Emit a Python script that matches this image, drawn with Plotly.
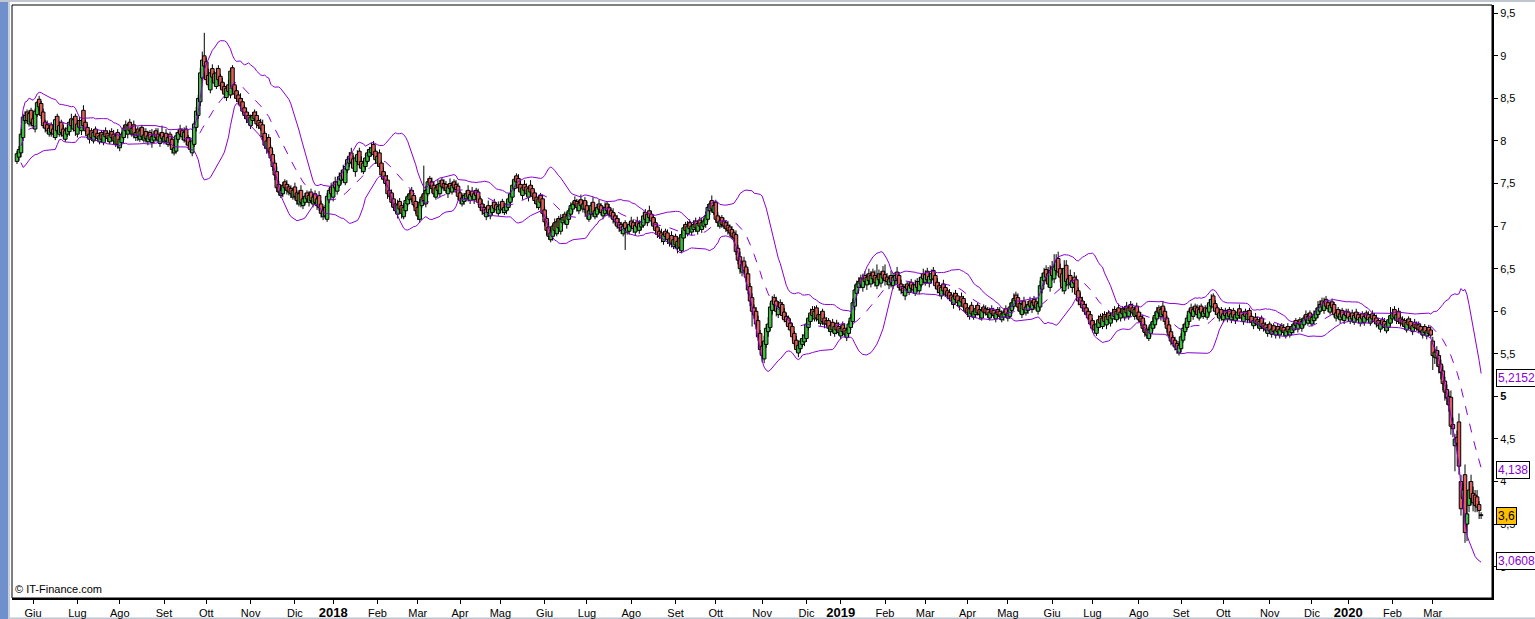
import pandas as pd
import plotly.graph_objects as go

# ---------------- data (prices in euro cents, one entry per trading day) ----------------
CLOSE = [
    785, 790, 808, 828, 830, 824, 832, 822, 818, 835, 845, 840, 830, 818, 815,
    812, 815, 810, 808, 825, 812, 818, 810, 806, 812,
    815, 822, 818, 825, 812, 820, 816, 824, 818,
    812, 806, 808, 804, 810, 805, 803,
    806, 802, 808, 805, 803, 807, 804,
    800, 806, 796, 802, 808,
    815, 812, 818,
    812, 815, 808, 810, 806, 812,
    805, 807, 803, 806, 802, 805, 808, 804, 801, 806, 803, 805, 800, 804,
    798, 790, 792,
    806, 810, 808,
    805, 810, 800, 795, 790,
    800, 820, 835, 850,
    880, 895,
    888, 872, 866,
    880,
    875, 868, 880, 872,
    865, 860, 855, 862, 858,
    882, 862,
    855, 850, 846, 842,
    835, 830, 826, 822, 828,
    830, 826, 820, 818,
    815, 805, 795, 800, 788,
    780, 770, 760,
    745, 740, 742,
    748, 745, 742,
    740, 738, 742,
    735, 730, 738, 728, 732,
    735, 732, 736, 730,
    734, 728, 732,
    722, 715, 718, 712,
    735, 742, 738, 748, 745,
    752, 758, 762, 755,
    770, 778, 782, 775, 768, 780, 784,
    772, 768, 774,
    780, 786, 790, 792, 784, 778, 782,
    770, 760, 755, 750, 738, 735,
    728, 722, 718, 725, 720, 715, 722,
    730, 735, 738, 732,
    725, 718, 712,
    728, 734, 730,
    742, 752,
    748, 744, 738, 745, 742, 750, 746,
    745, 742, 746, 744, 748, 745, 743,
    735, 730, 733,
    736, 738, 734, 737, 735, 738, 736,
    728, 722, 718, 715, 720, 716,
    720, 724, 721, 719, 723, 725, 720, 722, 726,
    732, 738,
    748, 755, 752, 745, 740,
    745, 742, 738, 744, 740,
    735, 730, 726, 732, 728,
    715, 705, 695, 688, 692,
    700, 695, 705, 698, 708,
    710, 706, 712,
    718, 724, 726,
    725, 722, 727, 724, 726,
    720, 712, 718, 724, 715,
    718, 722, 720, 716, 719, 722, 718,
    714, 712, 708,
    705, 700, 698, 695, 700, 697,
    698, 702, 700, 697, 701, 699, 703,
    705, 712, 708, 714, 710, 706, 700, 695,
    690, 688, 686, 690, 688, 684,
    685, 680, 684, 678, 682, 675,
    690, 698, 695, 700, 697,
    700, 702, 698, 703, 700, 704, 706,
    712, 722, 726, 720, 724,
    708, 704, 706, 702,
    700, 697, 695,
    692, 688, 686,
    670, 660, 650,
    655, 648, 640,
    625, 612, 600, 596,
    585, 570,
    555, 548,
    565, 580, 585,
    605, 612, 608, 600, 606, 604,
    595, 590, 588, 582, 578,
    570, 562, 555, 560,
    565, 568, 572, 585, 592,
    598, 595, 600, 592, 590, 596, 588, 585,
    585, 580, 583, 578, 582,
    578, 575, 580, 576, 573, 578,
    585, 592,
    610, 625, 632,
    635, 632,
    638, 635, 640, 636, 642, 638, 634, 640, 637, 643, 639, 636,
    635, 638, 634, 640, 642, 638,
    628, 625, 622,
    628, 626, 630, 627, 625, 631, 628,
    635, 640, 638, 643, 637, 641, 644, 638,
    630, 626, 622, 628, 624, 620, 618,
    615, 612, 617, 614, 610, 613, 611,
    605, 600, 598, 603, 597,
    600, 603, 598, 596, 601, 599,
    598, 596, 599, 597, 595, 598, 596, 594, 597, 599, 596, 598,
    605, 610, 615,
    612, 605, 600, 608, 602,
    605, 608, 606, 610, 607, 604, 609,
    630, 640,
    645, 640, 632, 648, 642,
    652, 658, 646,
    640, 628, 650, 635,
    638, 632, 636, 633,
    620, 612, 608, 604,
    600, 596, 592,
    585, 580, 578,
    585, 590, 586, 592, 588, 594, 590, 595,
    598, 594, 600, 596, 599,
    597, 602, 598, 604, 600, 598, 602,
    595, 590, 588,
    580, 575, 572,
    578, 584, 588,
    595, 600, 598, 602, 596,
    588, 580,
    572, 565, 562,
    558, 555, 560,
    570, 580, 585,
    592, 600, 598, 602,
    600, 596, 602, 598, 600, 597, 603,
    610, 614, 605,
    600, 596, 598, 594, 597,
    595, 598, 594, 597, 593, 596, 599, 595, 592, 596, 594, 597,
    590, 587, 589, 586, 584, 588,
    582, 580, 578, 581, 577, 579, 576,
    578, 576, 579, 577, 575, 578, 576, 579,
    582, 585, 583, 586, 584,
    588, 592, 590, 594, 589, 593, 596,
    600, 604, 608, 605,
    610, 606, 603, 607, 604,
    596, 598, 594, 597, 593, 596, 595, 592,
    594, 591, 595, 592, 590, 593, 591, 594, 592, 590, 593, 591,
    588, 585, 583, 586, 584, 581, 585,
    590, 595, 598, 593, 596, 588, 586,
    585, 582, 587, 584, 580, 583, 581,
    580, 578, 576, 578, 575, 577, 574, 572,
    548, 552, 545, 535, 528, 515, 505, 498, 490, 465, 462, 450, 445, 418, 368,
    390, 340, 362, 390, 380, 375, 372, 370, 366, 360,
]

OPEN = [
    776, 781, 786, 804, 824, 834, 820, 836, 826, 814, 831, 849, 844, 834, 822,
    819, 808, 819, 814, 804, 829, 808, 822, 814, 802,
    808, 811, 826, 814, 829, 808, 824, 812, 836,
    822, 816, 802, 812, 800, 814, 809,
    799, 810, 798, 812, 809, 799, 811,
    808, 796, 810, 792, 798,
    804, 819, 808,
    822, 808, 819, 804, 814, 802,
    816, 801, 811, 799, 810, 798, 801, 812, 808, 797, 810, 799, 809, 796,
    808, 802, 786,
    788, 802, 814,
    812, 801, 814, 804, 799,
    786, 796, 816, 830,
    846, 874,
    900, 893, 877,
    860,
    885, 879, 864, 885,
    876, 869, 864, 851, 866,
    854, 886,
    866, 859, 854, 850,
    846, 839, 834, 830, 818,
    824, 834, 830, 824,
    822, 819, 809, 791, 804,
    792, 784, 774,
    764, 749, 736,
    738, 752, 749,
    746, 744, 734,
    746, 739, 726, 742, 724,
    728, 739, 728, 740,
    726, 738, 724,
    736, 726, 711, 722,
    708, 731, 746, 734, 752,
    741, 748, 754, 766,
    751, 766, 774, 786, 779, 764, 776,
    788, 776, 764,
    770, 776, 782, 786, 796, 788, 774,
    786, 774, 764, 759, 754, 742,
    739, 732, 726, 714, 729, 724, 711,
    718, 726, 731, 742,
    736, 729, 722,
    708, 724, 738,
    726, 738,
    756, 752, 748, 734, 749, 738, 754,
    750, 749, 738, 750, 740, 752, 749,
    747, 739, 726,
    729, 732, 742, 730, 741, 731, 742,
    740, 732, 726, 722, 711, 724,
    712, 716, 728, 725, 715, 719, 729, 716, 718,
    722, 728,
    734, 744, 759, 756, 749,
    736, 749, 746, 734, 748,
    744, 739, 734, 722, 736,
    732, 719, 709, 699, 684,
    688, 704, 691, 709, 694,
    704, 714, 702,
    708, 714, 720,
    730, 729, 718, 731, 720,
    730, 724, 708, 714, 728,
    711, 714, 726, 724, 712, 715, 726,
    722, 718, 716,
    712, 709, 704, 702, 691, 704,
    693, 694, 706, 704, 693, 705, 695,
    699, 701, 716, 704, 718, 714, 710, 704,
    699, 694, 692, 682, 694, 692,
    680, 689, 676, 688, 674, 686,
    671, 686, 702, 691, 704,
    693, 696, 706, 694, 707, 696, 700,
    702, 708, 718, 730, 716,
    728, 712, 700, 710,
    706, 704, 701,
    699, 696, 692,
    690, 674, 664,
    646, 659, 652,
    644, 629, 616, 604,
    600, 589,
    574, 559,
    544, 561, 576,
    581, 601, 616, 612, 596, 610,
    608, 599, 594, 592, 586,
    582, 574, 566, 551,
    556, 561, 564, 568, 581,
    588, 602, 591, 604, 596, 586, 600, 592,
    589, 589, 576, 587, 574,
    586, 582, 571, 584, 580, 569,
    574, 581,
    588, 606, 621,
    628, 639,
    628, 642, 631, 644, 632, 646, 642, 630, 644, 633, 647, 643,
    640, 631, 642, 630, 636, 646,
    642, 632, 629,
    618, 632, 622, 634, 631, 621, 635,
    624, 631, 644, 634, 647, 633, 637, 648,
    642, 634, 630, 618, 632, 628, 624,
    622, 619, 608, 621, 618, 606, 617,
    615, 609, 604, 594, 607,
    593, 596, 607, 602, 592, 605,
    603, 602, 592, 603, 601, 591, 602, 600, 590, 593, 603, 592,
    594, 601, 606,
    619, 616, 609, 596, 612,
    598, 601, 612, 602, 614, 611, 600,
    605, 626,
    636, 649, 644, 628, 652,
    638, 648, 662,
    650, 644, 624, 654,
    631, 642, 628, 640,
    637, 624, 616, 612,
    608, 604, 600,
    596, 589, 584,
    574, 581, 594, 582, 596, 584, 598, 586,
    591, 602, 590, 604, 592,
    603, 593, 606, 594, 608, 604, 594,
    606, 599, 594,
    592, 584, 579,
    568, 574, 580,
    584, 591, 604, 594, 606,
    600, 592,
    584, 576, 569,
    566, 562, 551,
    556, 566, 576,
    581, 588, 604, 594,
    606, 604, 592, 606, 594, 604, 593,
    599, 606, 618,
    609, 604, 592, 602, 590,
    601, 591, 602, 590, 601, 589, 592, 603, 599, 588, 600, 590,
    601, 594, 583, 593, 590, 580,
    592, 586, 584, 574, 585, 573, 583,
    572, 582, 572, 583, 581, 571, 582, 572,
    575, 578, 589, 579, 590,
    580, 584, 596, 586, 598, 585, 589,
    592, 596, 600, 612,
    601, 614, 610, 599, 611,
    608, 592, 602, 590, 601, 589, 600, 599,
    588, 598, 587, 599, 596, 586, 597, 587, 598, 596, 586, 597,
    595, 592, 589, 579, 590, 588, 577,
    581, 586, 591, 602, 589, 600, 592,
    590, 589, 578, 591, 588, 576, 587,
    585, 584, 582, 572, 582, 571, 581, 578,
    565, 546, 554, 548, 538, 530, 518, 508, 500, 499, 467, 442, 452, 470, 400,
    380, 408, 350, 372, 400, 386, 384, 382, 373, 361,
]

# wick lengths above the body top / below the body bottom (cents)
UPPER_WICK = [
    3, 4, 6, 4, 5, 3, 4, 3, 5, 3, 2, 4, 3, 4, 3,
    5, 4, 3, 6, 4, 3, 5, 3, 5, 4,
    4, 3, 6, 4, 3, 5, 4, 3, 6,
    3, 4, 5, 3, 4, 3, 5,
    4, 3, 5, 4, 3, 6, 4,
    5, 3, 4, 6, 3,
    4, 5, 3,
    4, 3, 5, 4, 3, 4,
    3, 8, 4, 6, 3, 9, 4, 3, 7, 4, 8, 3, 5, 4,
    3, 4, 5,
    4, 3, 5,
    3, 6, 4, 3, 5,
    4, 3, 5, 4,
    6, 10,
    27, 5, 8,
    4,
    5, 3, 6, 4,
    3, 5, 4, 3, 6,
    4, 3,
    3, 5, 4, 6,
    4, 3, 5, 4, 3,
    4, 3, 5, 3,
    4, 6, 3, 5, 4,
    3, 5, 4,
    6, 4, 5,
    4, 3, 5,
    3, 4, 3,
    5, 3, 4, 6, 3,
    4, 3, 5, 4,
    3, 4, 3,
    5, 4, 6, 3,
    4, 3, 5, 4, 6,
    3, 5, 4, 6,
    4, 3, 5, 6, 4, 3, 5,
    4, 6, 3,
    5, 4, 3, 6, 4, 3, 5,
    4, 3, 5, 4, 6, 3,
    4, 5, 3, 6, 4, 3, 5,
    4, 3, 5, 4,
    3, 5, 4,
    4, 3, 33,
    5, 4,
    3, 5, 4, 3, 6, 4, 3,
    5, 4, 3, 6, 4, 3, 5,
    4, 3, 5,
    3, 4, 6, 3, 5, 4, 3,
    4, 3, 5, 4, 3, 6,
    3, 5, 4, 3, 6, 4, 3, 5, 4,
    5, 4,
    6, 4, 3, 5, 4,
    3, 5, 4, 3, 6,
    4, 3, 5, 4, 3,
    5, 4, 3, 6, 4,
    3, 5, 4, 3, 6,
    4, 3, 5,
    3, 4, 3,
    5, 3, 4, 6, 3,
    4, 5, 3, 4, 6,
    3, 4, 5, 3, 4, 6, 3,
    4, 3, 5,
    3, 4, 5, 3, 4, 3,
    4, 3, 5, 4, 3, 6, 4,
    3, 5, 4, 3, 6, 4, 3, 5,
    4, 3, 5, 4, 3, 4,
    3, 5, 4, 3, 6, 4,
    5, 4, 3, 6, 4,
    3, 5, 4, 3, 4, 6, 3,
    5, 4, 3, 6, 4,
    3, 4, 5, 3,
    4, 3, 5,
    3, 4, 3,
    5, 4, 6,
    4, 5, 3,
    6, 4, 5, 4,
    5, 6,
    4, 5,
    6, 5, 8,
    5, 6, 4, 5, 6, 4,
    3, 5, 4, 3, 5,
    4, 3, 5, 4,
    3, 5, 4, 6, 4,
    5, 4, 6, 3, 5, 4, 3, 5,
    4, 3, 5, 4, 3,
    4, 5, 3, 4, 6, 3,
    4, 5,
    5, 6, 4,
    5, 4,
    6, 5, 4, 6, 5, 4, 6, 15, 5, 4, 6, 12,
    5, 4, 6, 5, 4, 6,
    4, 5, 3,
    4, 3, 5, 4, 3, 6, 4,
    5, 4, 6, 5, 4, 6, 5, 4,
    3, 5, 4, 3, 5, 4, 3,
    4, 3, 5, 4, 3, 4, 5,
    3, 4, 5, 3, 4,
    3, 4, 3, 5, 4, 3,
    4, 3, 5, 4, 3, 4, 3, 5, 4, 3, 4, 3,
    5, 4, 6,
    4, 5, 3, 4, 5,
    3, 4, 5, 3, 4, 5, 3,
    6, 5,
    6, 5, 8, 6, 7,
    15, 9, 8,
    6, 7, 10, 6,
    5, 7, 4, 6,
    5, 4, 6, 5,
    4, 5, 3,
    4, 3, 5,
    4, 5, 3, 6, 4, 5, 3, 4,
    5, 4, 3, 5, 4,
    3, 4, 5, 3, 4, 5, 3,
    4, 3, 5,
    4, 5, 3,
    4, 3, 5,
    4, 5, 3, 4, 6,
    4, 3,
    5, 4, 3,
    4, 3, 5,
    4, 5, 3,
    4, 3, 5, 4,
    3, 4, 5, 3, 4, 3, 5,
    4, 6, 3,
    4, 3, 5, 3, 4,
    3, 4, 3, 5, 3, 4, 3, 5, 3, 4, 3, 4,
    3, 4, 3, 5, 3, 4,
    3, 4, 3, 4, 3, 5, 3,
    4, 3, 4, 3, 4, 3, 4, 3,
    3, 4, 3, 4, 3,
    4, 3, 5, 4, 3, 4, 5,
    4, 8, 5, 4,
    6, 4, 3, 5, 4,
    3, 4, 3, 5, 3, 4, 3, 4,
    3, 4, 3, 4, 3, 4, 3, 4, 3, 4, 3, 4,
    3, 4, 3, 4, 3, 4, 3,
    4, 10, 5, 4, 3, 4, 3,
    4, 3, 4, 3, 4, 3, 4,
    3, 4, 3, 4, 3, 4, 3, 4,
    5, 6, 5, 6, 5, 6, 5, 6, 6, 8, 8, 6, 8, 10, 8,
    8, 12, 10, 10, 8, 8, 6, 8, 4, 3,
]

LOWER_WICK = [
    3, 4, 5, 4, 4, 3, 3, 5, 4, 4, 3, 5, 4, 3, 5,
    4, 3, 5, 4, 3, 4, 3, 5, 4, 3,
    3, 5, 4, 3, 6, 4, 3, 5, 4,
    4, 3, 5, 4, 3, 4, 3,
    3, 4, 3, 5, 4, 3, 4,
    4, 3, 5, 4, 3,
    3, 4, 5,
    4, 3, 5, 4, 6, 3,
    4, 3, 5, 4, 3, 6, 4, 5, 3, 4, 5, 3, 4, 3,
    4, 5, 3,
    3, 4, 3,
    4, 3, 5, 4, 3,
    4, 3, 5, 4,
    5, 4,
    6, 5, 4,
    4,
    5, 4, 3, 5,
    4, 3, 5, 4, 3,
    4, 3,
    5, 4, 3, 4,
    3, 4, 5, 3, 4,
    4, 3, 5, 4,
    3, 5, 4, 6, 3,
    4, 5, 6,
    5, 4, 3,
    4, 3, 5,
    4, 5, 3,
    4, 5, 3, 6, 4,
    3, 4, 5, 3,
    4, 3, 5,
    4, 5, 4, 3,
    3, 4, 3, 5, 4,
    4, 3, 5, 4,
    3, 4, 5, 3, 4, 6, 3,
    4, 5, 3,
    4, 3, 5, 4, 3, 5, 4,
    3, 5, 4, 3, 6, 4,
    5, 4, 3, 5, 4, 6, 3,
    4, 3, 5, 4,
    3, 4, 5,
    4, 3, 5,
    4, 3,
    3, 5, 4, 3, 5, 4, 3,
    4, 3, 5, 4, 3, 5, 4,
    5, 4, 3,
    4, 3, 5, 4, 3, 5, 4,
    3, 4, 5, 3, 4, 5,
    4, 3, 5, 4, 3, 4, 5, 3, 4,
    3, 4,
    4, 3, 5, 4, 3,
    5, 4, 3, 5, 4,
    3, 4, 5, 3, 4,
    4, 5, 6, 4, 3,
    5, 4, 3, 5, 4,
    3, 4, 5,
    4, 3, 4,
    3, 5, 4, 3, 4,
    5, 4, 3, 5, 4,
    3, 4, 5, 3, 4, 3, 5,
    4, 3, 5,
    4, 3, 5, 4, 3, 25,
    3, 4, 3, 5, 4, 3, 4,
    4, 3, 5, 4, 3, 5, 4, 3,
    4, 3, 5, 4, 3, 5,
    4, 5, 3, 4, 6, 4,
    3, 4, 5, 3, 4,
    4, 3, 5, 4, 3, 4, 3,
    4, 3, 5, 4, 3,
    4, 5, 3, 4,
    3, 4, 5,
    4, 3, 5,
    4, 5, 6,
    5, 4, 6,
    5, 6, 18, 5,
    6, 5,
    6, 8,
    5, 4, 6,
    4, 5, 3, 6, 4, 5,
    4, 3, 5, 4, 3,
    5, 4, 3, 5,
    4, 3, 5, 4, 3,
    4, 5, 3, 4, 5, 3, 4, 5,
    3, 4, 5, 3, 4,
    5, 3, 4, 5, 3, 4,
    4, 3,
    4, 5, 3,
    4, 5,
    5, 4, 6, 5, 4, 6, 5, 4, 6, 5, 4, 6,
    4, 5, 6, 4, 5, 6,
    4, 5, 4,
    5, 4, 3, 5, 4, 3, 5,
    4, 3, 5, 4, 3, 5, 4, 3,
    4, 5, 3, 4, 5, 3, 4,
    3, 4, 5, 3, 4, 5, 3,
    4, 3, 5, 4, 3,
    3, 4, 3, 5, 3, 4,
    3, 4, 3, 4, 3, 4, 3, 4, 3, 4, 3, 4,
    3, 4, 3,
    4, 5, 3, 4, 5,
    3, 4, 3, 4, 5, 3, 4,
    4, 5,
    5, 6, 4, 5, 6,
    5, 6, 5,
    6, 5, 4, 6,
    5, 4, 6, 5,
    4, 5, 3, 4,
    3, 4, 5,
    4, 5, 4,
    3, 4, 5, 3, 4, 5, 3, 4,
    3, 4, 3, 5, 4,
    3, 4, 3, 4, 5, 3, 4,
    4, 3, 5,
    4, 5, 4,
    3, 4, 3,
    4, 3, 4, 5, 3,
    4, 5,
    4, 5, 3,
    4, 5, 3,
    4, 3, 5,
    3, 4, 3, 4,
    3, 4, 3, 4, 3, 4, 3,
    4, 3, 5,
    4, 3, 4, 5, 3,
    3, 4, 3, 4, 3, 4, 3, 4, 3, 4, 3, 4,
    4, 3, 4, 3, 4, 3,
    3, 4, 3, 4, 3, 4, 3,
    4, 3, 4, 3, 4, 3, 4, 3,
    3, 4, 3, 4, 3,
    4, 3, 4, 3, 4, 3, 4,
    3, 4, 3, 4,
    4, 3, 4, 3, 4,
    3, 4, 3, 4, 3, 4, 3, 4,
    3, 4, 3, 4, 3, 4, 3, 4, 3, 4, 3, 4,
    3, 4, 3, 4, 3, 4, 3,
    4, 3, 4, 3, 4, 3, 4,
    3, 4, 3, 4, 3, 4, 3,
    3, 4, 3, 4, 3, 4, 3, 4,
    17, 8, 10, 8, 8, 8, 10, 8, 8, 10, 10, 30, 8, 10, 8,
    10, 12, 20, 8, 8, 10, 8, 6, 10, 4,
]

FIRST_DAY = "2017-05-22"
HOLIDAYS = [
    "2017-08-15", "2017-12-25", "2017-12-26",
    "2018-01-01", "2018-03-30", "2018-04-02", "2018-05-01", "2018-08-15",
    "2018-12-24", "2018-12-25", "2018-12-26", "2018-12-31",
    "2019-01-01", "2019-04-19", "2019-04-22", "2019-05-01", "2019-08-15",
    "2019-12-24", "2019-12-25", "2019-12-26", "2019-12-31",
    "2020-01-01",
]
LAST_TICK_DATE = "2020-03-31"
MONTHS_IT = ["Gen", "Feb", "Mar", "Apr", "Mag", "Giu", "Lug", "Ago", "Set", "Ott", "Nov", "Dic"]
Y_TICKS = [3, 3.5, 4, 4.5, 5, 5.5, 6, 6.5, 7, 7.5, 8, 8.5, 9, 9.5]
BOLD_Y_TICK = 5
# last values shown in boxes on the right: text, level, text colour, background
LAST_BOXES = [
    ("5,2152", 5.2152, "#8a00d4", "#ffffff"),
    ("4,138", 4.138, "#8a00d4", "#ffffff"),
    ("3,0608", 3.0608, "#8a00d4", "#ffffff"),
    ("3,6", 3.6, "#000000", "#ffc000"),
]
BB_PERIOD = 20
BB_STD = 2

# ---------------- assemble ----------------
n = len(CLOSE)
assert len(OPEN) == n and len(UPPER_WICK) == n and len(LOWER_WICK) == n, (
    n, len(OPEN), len(UPPER_WICK), len(LOWER_WICK))

o = [v / 100 for v in OPEN]
c = [v / 100 for v in CLOSE]
body_top = [max(a, b) / 100 for a, b in zip(OPEN, CLOSE)]
body_bot = [min(a, b) / 100 for a, b in zip(OPEN, CLOSE)]
h = [(max(a, b) + w) / 100 for a, b, w in zip(OPEN, CLOSE, UPPER_WICK)]
l = [(min(a, b) - w) / 100 for a, b, w in zip(OPEN, CLOSE, LOWER_WICK)]

hol = set(pd.to_datetime(HOLIDAYS))
days = [d for d in pd.bdate_range(FIRST_DAY, periods=n + 60) if d not in hol][:n]
idx = list(range(n))

s = pd.Series(c)
mid = s.rolling(BB_PERIOD, min_periods=3).mean()
sd = s.rolling(BB_PERIOD, min_periods=3).std(ddof=0)
upper = mid + BB_STD * sd
lower = mid - BB_STD * sd

tickvals, ticktext = [], []
last_tick = pd.Timestamp(LAST_TICK_DATE)
for i in range(1, n):
    if days[i].month != days[i - 1].month and days[i] <= last_tick:
        tickvals.append(i)
        if days[i].month == 1:
            ticktext.append("<b><span style='font-size:13px'>%d</span></b>" % days[i].year)
        else:
            ticktext.append(MONTHS_IT[days[i].month - 1])

ytext = []
for v in Y_TICKS:
    t = ("%g" % v).replace(".", ",")
    ytext.append("<b>%s</b>" % t if v == BOLD_Y_TICK else t)

PURPLE = "#8a00d4"
GREEN = "#3fbf3f"
RED = "#de5f5a"
FONT = "Liberation Sans, Arial, sans-serif"

# wicks: high -> body top and body bottom -> low
wx, wy = [], []
for i in idx:
    wx += [i, i, None, i, i, None]
    wy += [h[i], body_top[i], None, body_bot[i], l[i], None]

fig = go.Figure()
fig.add_trace(go.Bar(
    x=idx, base=body_bot, y=[max(t - b, 0.004) for t, b in zip(body_top, body_bot)],
    width=1.75,
    marker=dict(color=[GREEN if cc >= oo else RED for oo, cc in zip(o, c)],
                line=dict(color="#000000", width=1)),
    hoverinfo="skip", showlegend=False))
fig.add_trace(go.Scatter(x=wx, y=wy, mode="lines", line=dict(color="#000000", width=1),
                         hoverinfo="skip", showlegend=False, connectgaps=False))
fig.add_trace(go.Scatter(x=idx, y=upper, mode="lines", line=dict(color=PURPLE, width=1),
                         hoverinfo="skip", showlegend=False))
fig.add_trace(go.Scatter(x=idx, y=lower, mode="lines", line=dict(color=PURPLE, width=1),
                         hoverinfo="skip", showlegend=False))
fig.add_trace(go.Scatter(x=idx, y=mid, mode="lines",
                         line=dict(color=PURPLE, width=1, dash="9px,9px"),
                         hoverinfo="skip", showlegend=False))

W, H = 1535, 619
L, R, T, B = 12, 43, 5, 21
pw, ph = W - L - R, H - T - B

fig.update_layout(
    width=W, height=H, autosize=False,
    margin=dict(l=L, r=R, t=T, b=B, pad=0, autoexpand=False),
    paper_bgcolor="#ffffff", plot_bgcolor="#ffffff",
    font=dict(family=FONT, size=11, color="#000000"),
    barmode="overlay",
    showlegend=False,
    xaxis=dict(
        range=[-2.48, 732.4], automargin=False,
        tickmode="array", tickvals=tickvals, ticktext=ticktext,
        ticks="outside", ticklen=4, tickwidth=1, tickcolor="#000000",
        showgrid=False, zeroline=False,
        showline=True, linewidth=2, linecolor="#000000",
        tickfont=dict(family=FONT, size=11, color="#000000"),
        fixedrange=True,
    ),
    yaxis=dict(
        side="right", range=[2.632, 9.597], automargin=False,
        tickmode="array", tickvals=Y_TICKS, ticktext=ytext,
        ticks="outside", ticklen=4, tickwidth=1, tickcolor="#000000",
        showgrid=False, zeroline=False,
        showline=True, linewidth=2, linecolor="#000000",
        tickfont=dict(family=FONT, size=11, color="#000000"),
        fixedrange=True,
    ),
)

# plot frame (thin top/left border)
fig.add_shape(type="rect", xref="paper", yref="paper", x0=0, x1=1, y0=0, y1=1,
              line=dict(color="#000000", width=1), fillcolor="rgba(0,0,0,0)", layer="above")
# window chrome: blue stripe on the left, grey lines at top and bottom
fig.add_shape(type="rect", xref="paper", yref="paper",
              x0=-L / pw, x1=(8 - L) / pw, y0=-B / ph, y1=(ph + T) / ph,
              line=dict(width=0), fillcolor="#7090cc", layer="above")
fig.add_shape(type="rect", xref="paper", yref="paper",
              x0=(8 - L) / pw, x1=(10 - L) / pw, y0=-B / ph, y1=(ph + T) / ph,
              line=dict(width=0), fillcolor="#c8d0e0", layer="above")
fig.add_shape(type="rect", xref="paper", yref="paper",
              x0=-L / pw, x1=(W - L) / pw, y0=(ph + T - 2) / ph, y1=(ph + T) / ph,
              line=dict(width=0), fillcolor="#c0c6d0", layer="above")
fig.add_shape(type="rect", xref="paper", yref="paper",
              x0=(8 - L) / pw, x1=(W - L) / pw, y0=-B / ph, y1=(-B + 1.5) / ph,
              line=dict(width=0), fillcolor="#c0c6d0", layer="below")

# watermark
fig.add_annotation(xref="paper", yref="paper", x=0, y=0, xanchor="left", yanchor="bottom",
                   xshift=1, yshift=1, text="\u00a9 IT-Finance.com", showarrow=False,
                   font=dict(family=FONT, size=11, color="#000000"))

# last value boxes
for text, lvl, fc, bg in LAST_BOXES:
    fig.add_annotation(xref="paper", yref="y", x=1, y=lvl, xanchor="left", yanchor="middle",
                       xshift=4, text=text, showarrow=False, bgcolor=bg,
                       bordercolor="#000000", borderwidth=1, borderpad=1,
                       font=dict(family=FONT, size=12, color=fc))

fig.write_html("out.html", config={"displayModeBar": False},
               post_script="document.body.style.margin='0';document.body.style.overflow='hidden';")
